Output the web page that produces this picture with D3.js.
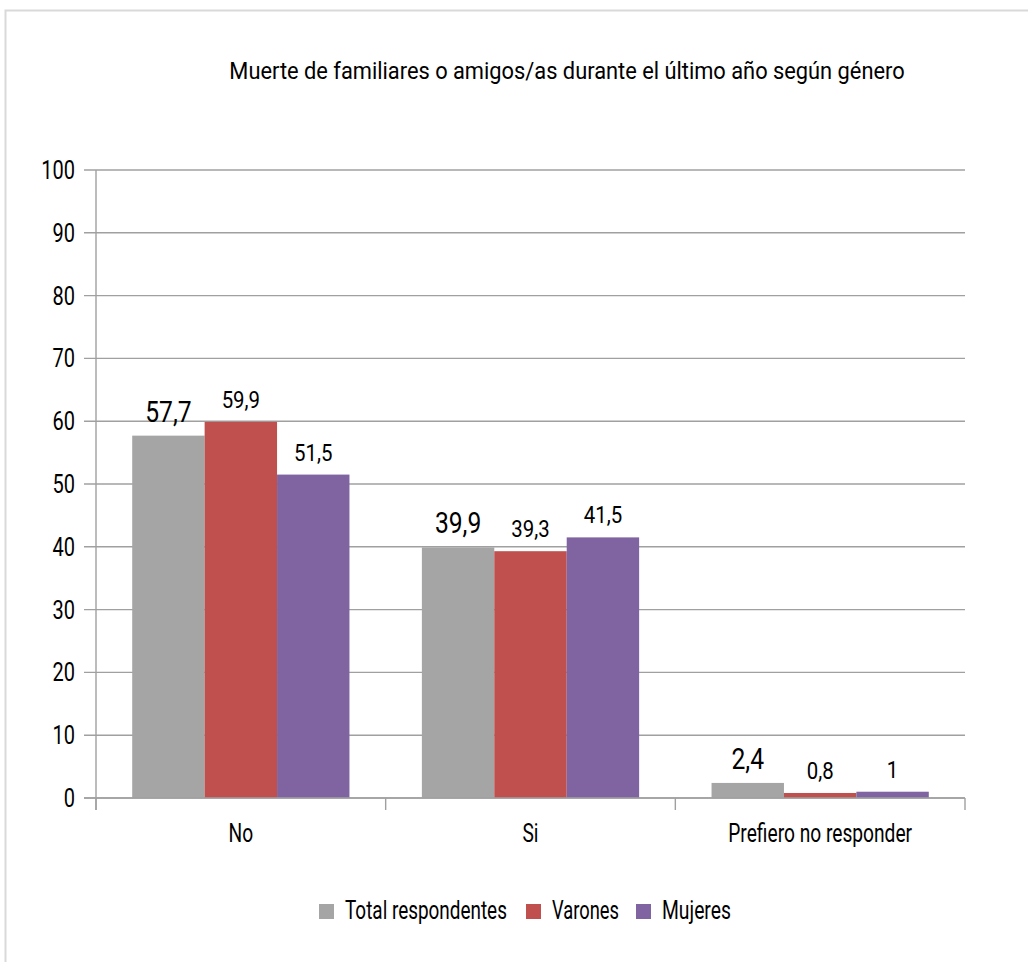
<!DOCTYPE html>
<html>
<head>
<meta charset="utf-8">
<script src="https://cdn.jsdelivr.net/npm/d3@7"></script>
<style>
html,body{margin:0;padding:0;background:#fff;}
svg{display:block;}
text{font-family:Roboto,"Liberation Sans",sans-serif;fill:#000;}
</style>
</head>
<body>
<script>
const categories = ["No", "Si", "Prefiero no responder"];
const seriesNames = ["Total respondentes", "Varones", "Mujeres"];
const seriesColors = ["#a5a5a5", "#c0504d", "#8064a2"];
const totalValues = [57.7, 39.9, 2.4];
const varonesValues = [59.9, 39.3, 0.8];
const mujeresValues = [51.5, 41.5, 1];
const valueLabels = [["57,7","39,9","2,4"],["59,9","39,3","0,8"],["51,5","41,5","1"]];
const yTicks = [0,10,20,30,40,50,60,70,80,90,100];
const title = "Muerte de familiares o amigos/as durante el último año según género";

const series = [totalValues, varonesValues, mujeresValues];

const W = 1028, H = 962;
const svg = d3.select("body").append("svg").attr("width", W).attr("height", H);

// condensed text helper: scale horizontally about the anchor point
function addText(parent, x, y, str, fs, anchor, sx, targetW) {
  const g = parent.append("g");
  const t = g.append("text").attr("font-size", fs).attr("text-anchor", anchor).text(str);
  let s = sx;
  if (targetW) s = targetW / t.node().getComputedTextLength();
  g.attr("transform", `translate(${x},${y}) scale(${s},1)`);
  return s;
}

svg.append("rect").attr("x",5.5).attr("y",10.5).attr("width",1030).attr("height",970)
  .attr("fill","#fff").attr("stroke","#d9d9d9").attr("stroke-width",2);

const pLeft = 96, pRight = 965, pTop = 170, pBottom = 798;
const x0 = d3.scaleBand().domain(categories).range([pLeft, pRight]).paddingInner(0).paddingOuter(0);
const x1 = d3.scaleBand().domain(d3.range(3)).range([0, x0.bandwidth()]).paddingInner(0).paddingOuter(0.5);
const y = d3.scaleLinear().domain([0,100]).range([pBottom, pTop]);

// gridlines
svg.append("g").selectAll("line").data(yTicks).join("line")
  .attr("x1", pLeft-12).attr("x2", pRight).attr("y1", d=>y(d)).attr("y2", d=>y(d))
  .attr("stroke","#a0a0a0").attr("stroke-width",1.4);

// y axis line
svg.append("line").attr("x1",pLeft).attr("x2",pLeft).attr("y1",pTop).attr("y2",pBottom+12)
  .attr("stroke","#a0a0a0").attr("stroke-width",1.4);

// y tick labels
const tickG = svg.append("g");
yTicks.forEach(v => addText(tickG, 75, y(v)+9, String(v), 25, "end", 0.8));

// category separator ticks
const sepX = categories.map(c=>x0(c)).concat([pRight]);
svg.append("g").selectAll("line").data(sepX).join("line")
  .attr("x1",d=>d).attr("x2",d=>d).attr("y1",pBottom).attr("y2",pBottom+12)
  .attr("stroke","#a0a0a0").attr("stroke-width",1.4);

// bars
const labG = svg.append("g");
series.forEach((vals, si) => {
  svg.append("g").selectAll("rect").data(vals).join("rect")
    .attr("x", (d,i)=>x0(categories[i]) + x1(si))
    .attr("width", x1.bandwidth())
    .attr("y", d=>y(d))
    .attr("height", d=>pBottom - y(d))
    .attr("fill", seriesColors[si]);
});

// baseline on top of bars
svg.append("line").attr("x1",pLeft-12).attr("x2",pRight).attr("y1",pBottom).attr("y2",pBottom)
  .attr("stroke","#a0a0a0").attr("stroke-width",1.4);

// value labels
series.forEach((vals, si) => {
  vals.forEach((d,i) => {
    const cx = x0(categories[i]) + x1(si) + x1.bandwidth()/2;
    addText(labG, cx, y(d) - 14, valueLabels[si][i], si===0 ? 29 : 24, "middle", 0.85);
  });
});

// category labels
const catG = svg.append("g");
const catScale = addText(catG, x0(categories[2]) + x0.bandwidth()/2, 842, categories[2], 25, "middle", 1, 184);
addText(catG, x0(categories[0]) + x0.bandwidth()/2, 842, categories[0], 25, "middle", catScale);
addText(catG, x0(categories[1]) + x0.bandwidth()/2, 842, categories[1], 25, "middle", catScale);

// title
addText(svg, 567, 79, title, 23, "middle", 1, 676);

// legend
const legendX = [319, 526, 636];
const legendW = [162, 67, 69];
const lg = svg.append("g");
seriesNames.forEach((n,i)=>{
  lg.append("rect").attr("x",legendX[i]).attr("y",904).attr("width",15).attr("height",15).attr("fill",seriesColors[i]);
  addText(lg, legendX[i]+26, 919, n, 25, "start", 1, legendW[i]);
});
</script>
</body>
</html>
